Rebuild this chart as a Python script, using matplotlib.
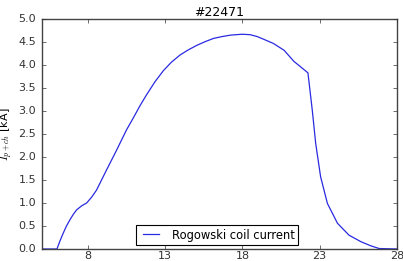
import matplotlib
matplotlib.use("Agg")
import matplotlib.pyplot as plt

plt.style.use("classic")

# time [ms] and current [kA]
t = [5.0, 6.0, 6.2, 6.4, 6.6, 6.83, 7.05, 7.27, 7.6, 7.92, 8.25, 8.56, 9.21, 9.86,
     10.5, 10.94, 11.38, 11.81, 12.35, 12.89, 13.4, 13.97, 14.5, 15.06, 15.6,
     16.14, 16.7, 17.22, 17.98, 18.5, 18.95, 19.38, 20.0, 20.7, 21.33, 21.77,
     22.24, 22.52, 22.74, 23.06, 23.5, 24.15, 24.9, 25.66, 26.3, 26.85, 28.0]
current = [0.0, 0.0, 0.18, 0.34, 0.49, 0.63, 0.75, 0.85, 0.94, 1.0, 1.13, 1.28,
           1.72, 2.15, 2.59, 2.85, 3.12, 3.36, 3.64, 3.88, 4.06, 4.22, 4.33, 4.43,
           4.51, 4.58, 4.62, 4.65, 4.67, 4.66, 4.62, 4.56, 4.47, 4.32, 4.08, 3.96,
           3.83, 3.02, 2.3, 1.57, 0.99, 0.56, 0.3, 0.16, 0.07, 0.01, 0.0]

fig = plt.figure(figsize=(4.03, 2.61), dpi=100, facecolor="white")
ax = fig.add_axes([0.103, 0.046, 0.882, 0.881])

ax.plot(t, current, color="#2a2ae0", lw=0.9, label="Rogowski coil current")

ax.set_xlim(5, 28)
ax.set_ylim(0, 5)
ax.set_xticks([8, 13, 18, 23, 28])
ax.set_yticks([0.0, 0.5, 1.0, 1.5, 2.0, 2.5, 3.0, 3.5, 4.0, 4.5, 5.0])
ax.tick_params(labelsize=8, length=3, colors="#333333")
ax.tick_params(axis="x", pad=1.5)
for s in ax.spines.values():
    s.set_color("#444444")

ax.set_title("#22471", fontsize=9, pad=2)
ax.set_ylabel(r"$I_{p+ch}$ [kA]", fontsize=8, labelpad=2)

leg = ax.legend(loc="lower center", fontsize=8.3, handlelength=2.0,
                borderpad=0.3, borderaxespad=0.35, bbox_to_anchor=(0.495, 0.0))
leg.get_frame().set_linewidth(0.8)

fig.savefig("out.png", dpi=100, facecolor="white")
